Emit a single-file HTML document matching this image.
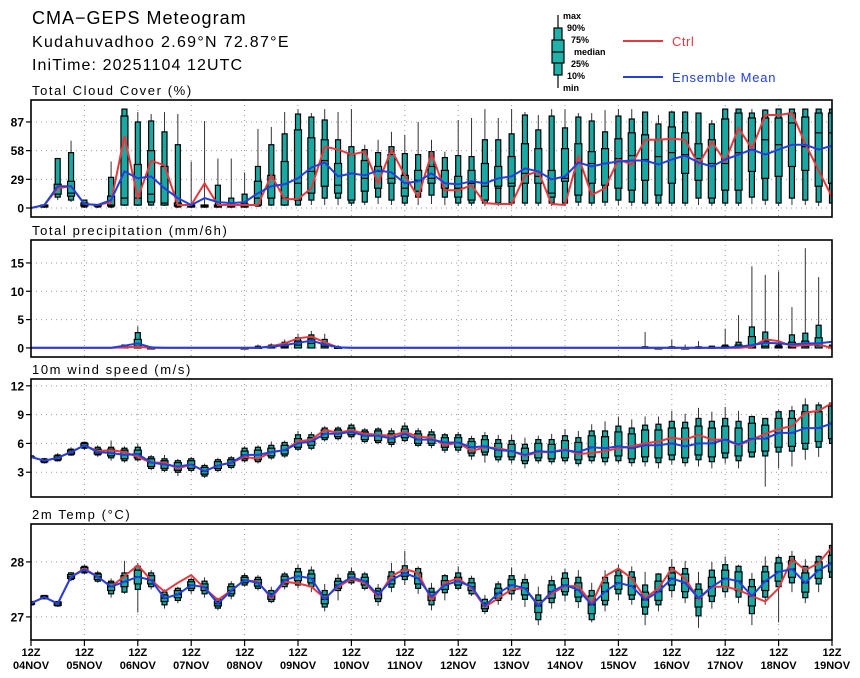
<!DOCTYPE html>
<html><head><meta charset="utf-8"><title>CMA-GEPS Meteogram</title>
<style>
html,body{margin:0;padding:0;background:#fff;}
svg{display:block;font-family:"Liberation Sans","DejaVu Sans",sans-serif;}
.t{font-weight:bold;fill:#000;}
</style></head>
<body>
<svg id="chart" width="860" height="678" viewBox="0 0 860 678" xmlns="http://www.w3.org/2000/svg">
<rect width="860" height="678" fill="#fff"/>
<text x="32" y="24" font-size="18" letter-spacing="1" fill="#000">CMA−GEPS Meteogram</text>
<text x="32" y="47" font-size="16" letter-spacing="1.3" fill="#000">Kudahuvadhoo 2.69°N 72.87°E</text>
<text x="32" y="70" font-size="16" letter-spacing="1.1" fill="#000">IniTime: 20251104 12UTC</text>
<g>
 <line x1="558" y1="15" x2="558" y2="88" stroke="#000" stroke-width="1.2"/>
 <rect x="554" y="28" width="8" height="47" fill="#20b2aa" stroke="#000" stroke-width="1.2"/>
 <rect x="552" y="40" width="12" height="23" fill="#20b2aa" stroke="#000" stroke-width="1.2"/>
 <line x1="552" y1="52" x2="564" y2="52" stroke="#000" stroke-width="1.2"/>
 <text x="563" y="19" font-size="9" class="t">max</text>
 <text x="567" y="31" font-size="9" class="t">90%</text>
 <text x="571" y="43" font-size="9" class="t">75%</text>
 <text x="574" y="55" font-size="9" class="t">median</text>
 <text x="571" y="67" font-size="9" class="t">25%</text>
 <text x="567" y="79" font-size="9" class="t">10%</text>
 <text x="563" y="91" font-size="9" class="t">min</text>
 <line x1="623" y1="41" x2="663" y2="41" stroke="#e8383d" stroke-width="2"/>
 <text x="672" y="46" font-size="13" letter-spacing="0.5" fill="#e8383d">Ctrl</text>
 <line x1="623" y1="77" x2="663" y2="77" stroke="#2040e0" stroke-width="2"/>
 <text x="672" y="82" font-size="13" letter-spacing="0.8" fill="#2040e0">Ensemble Mean</text>
</g>
<g id="plots"></g>
</svg>
<script>
const days = ["04NOV","05NOV","06NOV","07NOV","08NOV","09NOV","10NOV","11NOV","12NOV","13NOV","14NOV","15NOV","16NOV","17NOV","18NOV","19NOV"];

const cloudCtrl = [0,3,20,22,4,3,6,73,10,48,43,3,3,25,3,3,3,3,33,9,9,20,62,59,54,57,25,59,33,11,55,18,18,23,5,4,4,33,37,4,3,52,13,20,49,44,69,69,70,69,44,67,47,81,60,94,94,96,65,38,11];
const cloudMean = [0,3,22,22,4,3,8,37,30,32,20,10,3,10,6,5,6,15,22,24,30,41,46,32,35,33,38,36,25,27,35,25,24,27,25,30,32,40,37,29,32,46,42,45,47,48,48,44,49,53,46,42,49,54,59,54,59,64,64,59,63];
const cloudMax = [0,3,50,68,8,3,47,100,97,95,97,95,47,88,50,50,36,80,82,97,100,96,100,97,100,64,69,77,74,87,69,57,89,91,100,91,100,97,94,100,100,96,96,99,100,100,97,94,98,98,96,89,100,100,100,100,100,100,100,100,100];
const cloudP90 = [0,3,50,56,8,3,31,100,87,88,77,64,3,3,23,10,14,42,64,75,95,92,89,69,62,59,56,62,55,54,57,51,53,52,69,69,75,94,79,93,81,92,88,77,93,90,97,85,97,97,96,85,100,100,96,99,100,100,100,100,100];
const cloudP75 = [0,3,24,27,5,3,12,93,44,58,42,5,3,3,3,3,4,27,33,47,79,71,69,45,54,48,42,54,33,38,42,38,32,38,45,42,52,65,60,38,60,65,57,60,70,76,74,69,82,76,65,69,90,96,91,91,91,96,92,96,96];
const cloudMed = [0,2,20,15,3,2,3,10,10,14,5,3,2,2,2,2,2,10,10,10,25,37,48,23,35,30,37,30,20,28,30,25,20,25,22,20,25,35,32,15,30,46,45,45,50,53,49,52,56,54,50,45,45,56,59,69,64,86,62,76,76];
const cloudP25 = [0,1,14,12,2,2,2,3,3,6,3,2,1,1,1,1,1,3,10,3,8,15,22,15,8,17,20,25,12,17,25,20,11,8,8,22,22,25,25,11,27,13,25,23,20,18,28,13,25,35,28,10,18,18,37,30,32,42,38,22,25];
const cloudP10 = [0,1,11,8,1,1,1,3,3,3,3,1,1,1,1,1,1,2,3,3,3,8,10,10,5,6,11,8,5,11,13,11,5,5,5,5,5,5,5,5,5,6,5,6,8,6,5,5,5,5,10,5,5,5,11,8,5,10,8,6,5];
const cloudMin = [0,0,8,6,0,0,0,2,2,2,2,0,0,0,0,0,0,1,2,2,2,3,3,3,2,3,4,3,2,3,4,3,2,2,2,2,2,2,2,2,2,2,2,2,3,2,2,2,2,2,3,2,2,2,4,3,2,3,3,2,2];

const precCtrl = [0,0,0,0,0,0,0,0.1,0.2,0,0,0,0,0,0,0,0,0,0.3,0.8,1.7,2.0,1.0,0.1,0,0,0,0,0,0,0,0,0,0,0,0,0,0,0,0,0,0,0,0,0,0,0,0,0,0,0,0,0,0,0.2,1.5,1.2,0.3,0.5,0.6,0];
const precMean = [0.05,0.05,0.05,0.05,0.05,0.05,0.05,0.4,0.8,0.1,0.05,0.05,0.05,0.05,0.05,0.05,0.05,0.05,0.2,0.5,0.9,1.3,0.6,0.1,0.05,0.05,0.05,0.05,0.05,0.05,0.05,0.05,0.05,0.05,0.05,0.05,0.05,0.05,0.05,0.05,0.05,0.05,0.05,0.05,0.05,0.05,0.05,0.05,0.05,0.05,0.05,0.05,0.05,0.2,0.5,0.9,0.8,0.6,0.8,0.8,1.1];
const precMax = [0,0,0,0,0,0,0,0.6,3.8,0.3,0,0,0,0,0,0,0.2,0.6,0.8,1.5,2.5,3.0,2.5,0.5,0,0,0,0,0,0,0,0,0,0,0,0,0,0,0,0,0,0,0,0,0,0,2.8,0.2,1.5,0.6,1.2,0.4,3.4,5.8,14.4,12.9,13.5,7.2,17.6,12.5,7.0];
const precP90 = [0,0,0,0,0,0,0,0.5,2.7,0.1,0,0,0,0,0,0,0,0.3,0.5,1.0,1.8,2.3,1.5,0.2,0,0,0,0,0,0,0,0,0,0,0,0,0,0,0,0,0,0,0,0,0,0,0.2,0,0.2,0,0.2,0.3,0.5,1.0,3.7,2.8,0.5,2.3,2.6,4.0,0.5];
const precP75 = [0,0,0,0,0,0,0,0.3,1.5,0,0,0,0,0,0,0,0,0.1,0.3,0.6,1.2,1.6,0.8,0.1,0,0,0,0,0,0,0,0,0,0,0,0,0,0,0,0,0,0,0,0,0,0,0.1,0,0.1,0,0.1,0.1,0.3,0.5,2.0,1.2,0.3,1.0,1.2,1.8,0.2];
const precMed = [0,0,0,0,0,0,0,0.1,0.3,0,0,0,0,0,0,0,0,0,0.1,0.2,0.5,0.8,0.3,0,0,0,0,0,0,0,0,0,0,0,0,0,0,0,0,0,0,0,0,0,0,0,0,0,0,0,0,0,0,0.1,0.2,0.3,0.1,0.2,0.3,0.4,0];

const windCtrl = [4.6,4.2,4.5,5.1,5.8,5.2,5.3,5.1,4.6,4.0,4.0,3.4,3.8,3.1,3.7,4.0,4.6,4.4,5.1,5.3,6.2,6.4,7.4,7.1,7.4,7.0,6.9,6.8,7.2,6.7,6.6,5.8,6.1,5.2,5.6,5.5,5.2,4.7,5.1,5.1,5.4,4.9,5.0,5.2,5.5,5.7,6.0,6.2,6.6,6.4,6.9,6.4,6.4,5.8,6.4,7.0,7.5,7.8,9.2,9.4,10.2];
const windMean = [4.6,4.2,4.5,5.1,5.8,5.1,5.0,4.8,4.9,4.0,3.8,3.6,3.8,3.1,3.7,4.0,4.8,4.8,5.1,5.3,6.0,6.2,7.0,7.0,7.2,6.8,6.8,6.5,7.0,6.4,6.4,6.1,6.1,5.6,5.7,5.3,5.2,4.8,5.2,5.1,5.3,5.1,5.6,5.5,5.7,5.5,5.8,5.8,6.0,5.7,6.0,6.0,6.4,5.9,6.5,6.5,7.1,7.1,7.6,7.6,8.1];
const windMax = [4.8,4.5,5.0,5.6,6.2,5.8,6.3,5.7,6.0,4.8,4.8,4.4,4.6,3.9,4.5,4.7,5.7,5.8,6.2,6.3,7.3,7.2,7.8,7.8,8.1,7.6,7.7,7.6,8.2,7.6,7.5,7.1,7.2,6.8,7.2,6.9,6.9,6.6,6.8,7.0,7.5,7.3,8.0,8.3,8.8,8.5,8.8,8.8,9.4,9.1,9.7,9.3,9.8,9.4,8.9,8.6,9.5,9.9,10.7,10.3,10.3];
const windP90 = [4.7,4.4,4.8,5.4,6.1,5.6,5.6,5.5,5.6,4.6,4.4,4.2,4.4,3.7,4.3,4.5,5.5,5.6,5.8,6.1,6.9,6.9,7.6,7.6,7.9,7.4,7.5,7.3,7.8,7.3,7.2,6.9,6.9,6.5,6.8,6.4,6.3,5.9,6.4,6.4,6.8,6.6,7.3,7.3,7.8,7.6,7.9,8.0,8.3,8.2,8.6,8.3,8.6,8.3,8.8,8.6,9.3,9.4,10.0,10.0,10.2];
const windP75 = [4.6,4.3,4.7,5.3,6.0,5.4,5.4,5.3,5.3,4.4,4.2,4.0,4.2,3.5,4.1,4.3,5.2,5.3,5.5,5.8,6.5,6.6,7.4,7.4,7.6,7.2,7.3,7.0,7.5,7.0,6.9,6.6,6.6,6.2,6.4,6.0,5.9,5.5,6.0,5.9,6.3,6.1,6.8,6.7,7.2,7.0,7.4,7.4,7.6,7.6,7.8,7.6,7.8,7.6,8.1,7.9,8.6,8.6,9.3,9.3,9.9];
const windP25 = [4.6,4.1,4.3,4.9,5.6,4.9,4.7,4.4,4.5,3.6,3.4,3.2,3.4,2.8,3.4,3.7,4.4,4.3,4.7,4.9,5.6,5.8,6.6,6.7,6.9,6.4,6.3,6.1,6.6,6.0,6.0,5.6,5.6,5.0,5.1,4.6,4.6,4.2,4.5,4.4,4.5,4.3,4.6,4.5,4.7,4.4,4.6,4.5,4.8,4.5,4.8,4.6,5.0,4.7,5.1,5.2,5.6,5.7,6.0,6.2,6.5];
const windP10 = [4.5,4.0,4.2,4.8,5.5,4.8,4.5,4.2,4.3,3.4,3.2,3.0,3.2,2.6,3.2,3.5,4.2,4.1,4.5,4.7,5.4,5.5,6.4,6.5,6.7,6.2,6.1,5.9,6.3,5.8,5.8,5.3,5.3,4.7,4.8,4.3,4.3,3.9,4.2,4.1,4.2,3.9,4.2,4.1,4.2,4.0,4.1,4.0,4.3,4.0,4.3,4.1,4.5,4.2,4.6,4.7,5.1,5.2,5.4,5.6,6.0];
const windMin = [4.4,3.9,4.1,4.7,5.3,4.6,4.2,4.0,4.1,3.2,3.0,2.6,3.0,2.4,3.0,3.3,4.0,3.9,4.3,4.5,5.2,5.3,6.2,6.3,6.5,6.0,5.9,5.6,6.1,5.6,5.5,5.0,5.0,4.3,4.0,4.0,3.9,3.4,3.9,3.8,3.9,3.6,3.9,3.7,3.9,3.6,3.6,3.4,3.8,3.6,3.6,3.4,3.9,3.4,4.5,1.5,3.4,3.6,4.3,4.6,5.4];

const tempCtrl = [27.25,27.36,27.24,27.73,27.88,27.73,27.55,27.74,27.94,27.67,27.46,27.62,27.76,27.52,27.31,27.48,27.67,27.64,27.34,27.64,27.61,27.55,27.34,27.55,27.69,27.62,27.37,27.74,27.87,27.80,27.31,27.62,27.70,27.52,27.18,27.34,27.50,27.52,27.22,27.42,27.56,27.56,27.25,27.74,27.88,27.70,27.34,27.52,27.88,27.70,27.32,27.55,27.55,27.49,27.38,27.28,27.52,28.05,27.85,27.98,28.27];
const tempMean = [27.25,27.36,27.24,27.73,27.86,27.73,27.55,27.64,27.73,27.67,27.34,27.41,27.58,27.54,27.24,27.48,27.67,27.62,27.37,27.67,27.74,27.70,27.32,27.58,27.72,27.65,27.40,27.67,27.80,27.70,27.37,27.58,27.65,27.55,27.20,27.43,27.58,27.52,27.20,27.46,27.58,27.49,27.22,27.46,27.62,27.56,27.31,27.46,27.70,27.62,27.34,27.55,27.70,27.65,27.38,27.65,27.82,27.87,27.62,27.85,27.98];
const tempMax = [27.29,27.40,27.29,27.82,27.95,27.84,27.70,28.02,27.98,27.85,27.50,27.55,27.72,27.72,27.35,27.65,27.80,27.76,27.55,27.82,27.95,27.92,27.60,27.78,27.90,27.82,27.60,27.98,28.20,27.92,27.62,27.78,27.92,27.75,27.40,27.65,27.90,27.78,27.55,27.75,27.88,27.85,27.62,27.85,27.95,27.92,27.82,27.80,28.05,28.02,27.82,28.00,28.10,27.95,27.80,28.10,28.12,28.20,28.05,28.12,28.40];
const tempP90 = [27.28,27.39,27.28,27.80,27.92,27.80,27.65,27.80,27.92,27.80,27.45,27.52,27.68,27.65,27.32,27.60,27.75,27.72,27.48,27.78,27.88,27.85,27.48,27.70,27.82,27.78,27.52,27.82,27.93,27.88,27.52,27.75,27.80,27.70,27.32,27.60,27.75,27.68,27.40,27.66,27.80,27.72,27.48,27.72,27.85,27.82,27.58,27.78,27.90,27.88,27.60,27.85,27.95,27.92,27.68,27.92,28.08,28.10,27.92,28.10,28.30];
const tempP75 = [27.27,27.38,27.27,27.77,27.90,27.78,27.62,27.75,27.85,27.75,27.40,27.48,27.64,27.60,27.28,27.55,27.72,27.68,27.42,27.74,27.82,27.78,27.40,27.65,27.78,27.72,27.47,27.74,27.86,27.80,27.45,27.66,27.72,27.62,27.25,27.52,27.68,27.62,27.30,27.58,27.70,27.62,27.38,27.62,27.75,27.72,27.45,27.65,27.80,27.78,27.50,27.72,27.85,27.82,27.55,27.82,27.98,28.02,27.80,28.00,28.12];
const tempP25 = [27.23,27.34,27.21,27.70,27.82,27.68,27.48,27.55,27.60,27.60,27.28,27.35,27.52,27.48,27.20,27.42,27.62,27.56,27.32,27.60,27.66,27.62,27.24,27.52,27.66,27.58,27.33,27.60,27.74,27.60,27.30,27.50,27.58,27.48,27.15,27.34,27.48,27.40,27.08,27.34,27.46,27.36,27.06,27.30,27.50,27.40,27.18,27.30,27.58,27.46,27.18,27.38,27.55,27.48,27.20,27.48,27.65,27.72,27.45,27.70,27.82];
const tempP10 = [27.22,27.33,27.20,27.68,27.80,27.65,27.42,27.45,27.50,27.55,27.22,27.30,27.48,27.42,27.16,27.38,27.58,27.52,27.28,27.55,27.58,27.55,27.18,27.48,27.62,27.52,27.28,27.54,27.68,27.52,27.22,27.44,27.52,27.42,27.10,27.30,27.42,27.32,26.95,27.26,27.40,27.28,26.95,27.22,27.42,27.32,27.05,27.22,27.48,27.35,27.02,27.28,27.46,27.36,27.06,27.36,27.55,27.62,27.35,27.60,27.72];
const tempMin = [27.20,27.32,27.18,27.65,27.78,27.62,27.35,27.42,27.08,27.50,27.15,27.25,27.42,27.35,27.12,27.32,27.55,27.48,27.25,27.50,27.52,27.45,27.10,27.30,27.58,27.48,27.20,27.45,27.58,27.42,27.12,27.30,27.48,27.38,27.05,27.22,27.30,27.18,26.85,27.15,27.28,27.16,26.90,27.10,27.30,27.22,26.85,27.10,27.35,27.25,26.80,27.15,27.35,27.25,26.85,27.22,26.90,27.45,27.25,27.45,27.55];

const cloudTicks = [0,29,58,87];
const precTicks = [0,5,10,15];
const windTicks = [3,6,9,12];
const tempTicks = [27,28];

const NS = "http://www.w3.org/2000/svg";
const plots = document.getElementById("plots");
const X0 = 31, X1 = 832, NSTEP = 60;
function xAt(i){ return X0 + (X1 - X0) * i / NSTEP; }
function mk(tag, attrs, parent){
  const e = document.createElementNS(NS, tag);
  for (const k in attrs) e.setAttribute(k, attrs[k]);
  (parent || plots).appendChild(e);
  return e;
}

const panels = [
 {key:"cloud", title:"Total Cloud Cover (%)", top:100, bot:217, ymin:-9.1, ymax:109.2, ticks:cloudTicks,
  ctrl:cloudCtrl, mean:cloudMean, mx:cloudMax, p90:cloudP90, p75:cloudP75, med:cloudMed, p25:cloudP25, p10:cloudP10, mn:cloudMin},
 {key:"precip", title:"Total precipitation (mm/6h)", top:240, bot:357, ymin:-1.6, ymax:19.05, ticks:precTicks,
  ctrl:precCtrl, mean:precMean, mx:precMax, p90:precP90, p75:precP75, med:precMed, p25:null, p10:null, mn:null},
 {key:"wind", title:"10m wind speed (m/s)", top:379, bot:497, ymin:0.42, ymax:12.71, ticks:windTicks,
  ctrl:windCtrl, mean:windMean, mx:windMax, p90:windP90, p75:windP75, med:windMean, p25:windP25, p10:windP10, mn:windMin},
 {key:"temp", title:"2m Temp (°C)", top:524, bot:640, ymin:26.58, ymax:28.69, ticks:tempTicks,
  ctrl:tempCtrl, mean:tempMean, mx:tempMax, p90:tempP90, p75:tempP75, med:tempMean, p25:tempP25, p10:tempP10, mn:tempMin}
];

panels.forEach(function(p, pi){
  const g = mk("g", {});
  
  
  const yAt = function(v){ return p.bot - (v - p.ymin) / (p.ymax - p.ymin) * (p.bot - p.top); };
  const cp = mk("clipPath", {id:"clip" + pi}, g);
  mk("rect", {x:X0, y:p.top, width:X1 - X0, height:p.bot - p.top}, cp);

  const title = mk("text", {x:32, y:p.top - 5, "font-size":13, "letter-spacing":1.6, fill:"#000"}, g);
  title.textContent = p.title;
  
  

  for (let d = 1; d < 15; d++) {
    const gx = X0 + (X1 - X0) * d / 15;
    const gl = mk("line", {x1:gx, y1:p.top, x2:gx, y2:p.bot, stroke:"#999", "stroke-width":1, "stroke-dasharray":"1,4"}, g);
    
    
  }
  p.ticks.forEach(function(t){
    const ty = yAt(t);
    const hl = mk("line", {x1:X0, y1:ty, x2:X1, y2:ty, stroke:"#999", "stroke-width":1, "stroke-dasharray":"1,4"}, g);
    
    
    mk("line", {x1:X0 - 5, y1:ty, x2:X0, y2:ty, stroke:"#000", "stroke-width":1.2}, g);
    const tl = mk("text", {x:X0 - 7, y:ty + 4.5, "font-size":12, "text-anchor":"end", "font-weight":"bold", fill:"#000"}, g);
    tl.textContent = String(t);
    
    
  });

  const bg = mk("g", {"clip-path":"url(#clip" + pi + ")"}, g);
  for (let i = 0; i <= NSTEP; i++) {
    const x = xAt(i);
    const mn = p.mn ? p.mn[i] : 0, p10 = p.p10 ? p.p10[i] : 0, p25 = p.p25 ? p.p25[i] : 0;
    if (pi < 2 && p.mx[i] === 0) continue;
    const box = mk("g", {}, bg);
    
    
    mk("line", {x1:x, y1:yAt(p.mx[i]), x2:x, y2:yAt(mn), stroke:"#333", "stroke-width":1}, box);
    const o1 = yAt(p.p90[i]), o2 = yAt(p10);
    mk("rect", {x:x - 2.5, y:o1, width:5, height:Math.max(1, o2 - o1), fill:"#1aa8a2", stroke:"#000", "stroke-width":1.2}, box);
    const i1 = yAt(p.p75[i]), i2 = yAt(p25);
    mk("rect", {x:x - 3.5, y:i1, width:7, height:Math.max(1, i2 - i1), fill:"#1aa8a2", stroke:"#000", "stroke-width":1.2}, box);
    const my = yAt(p.med[i]);
    mk("line", {x1:x - 3.5, y1:my, x2:x + 3.5, y2:my, stroke:"#000", "stroke-width":1.2}, box);
  }

  const toPts = function(arr){ return arr.map(function(v, i){ return xAt(i).toFixed(1) + "," + yAt(v).toFixed(1); }).join(" "); };
  const cl = mk("polyline", {points:toPts(p.ctrl), fill:"none", stroke:"#e8383d", "stroke-width":2, "clip-path":"url(#clip" + pi + ")"}, g);
  
  
  const ml = mk("polyline", {points:toPts(p.mean), fill:"none", stroke:"#2040e0", "stroke-width":2, "clip-path":"url(#clip" + pi + ")"}, g);
  
  

  const fr = mk("rect", {x:X0, y:p.top, width:X1 - X0, height:p.bot - p.top, fill:"none", stroke:"#000", "stroke-width":1.6}, g);
  
  
});

const xg = mk("g", {});


days.forEach(function(d, k){
  const x = X0 + (X1 - X0) * k / 15;
  mk("line", {x1:x, y1:640, x2:x, y2:646, stroke:"#000", "stroke-width":1.2}, xg);
  const t1 = mk("text", {x:x, y:656, "font-size":11, "text-anchor":"middle", "font-weight":"bold", fill:"#000"}, xg);
  t1.textContent = "12Z";
  
  
  const t2 = mk("text", {x:x, y:669, "font-size":11, "text-anchor":"middle", "font-weight":"bold", fill:"#000"}, xg);
  t2.textContent = d;
  
  
});
</script>
</body></html>
